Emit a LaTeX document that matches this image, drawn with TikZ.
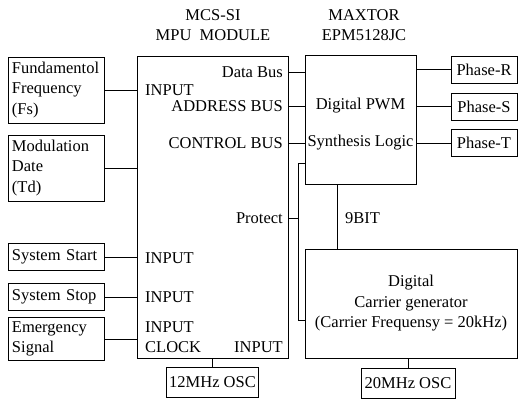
\documentclass[tikz,border=0pt]{standalone}
\usepackage{fontspec}
\setmainfont{Liberation Serif}
\begin{document}
\begin{tikzpicture}[x=1pt,y=-1pt,
  every node/.style={font=\fontsize{16.5}{20.5}\selectfont},
  box/.style={draw, line width=0.8pt, inner sep=0pt},
  lbox/.style={box, align=left, inner xsep=4pt, text width=#1},
  lbl/.style={inner sep=0pt},
  wire/.style={line width=0.7pt}]
\useasboundingbox (0,0) rectangle (518,401);

% titles
\node[lbl] (t1) at (213,15) {MCS-SI};
\node[lbl] (t2) at (213,35) {MPU\ \ MODULE};
\node[lbl] (t3) at (364,15) {MAXTOR};
\node[lbl] (t4) at (364,35) {EPM5128JC};

% main boxes
\node[box, minimum width=151pt, minimum height=302pt] (mpu) at (212.5,207) {};
\node[box, minimum width=111pt, minimum height=129pt] (pwm) at (360.5,119.5) {};
\node[box, minimum width=212pt, minimum height=109pt, align=center] (car) at (411,303.5)
  {Digital\\Carrier generator\\(Carrier Frequensy = 20kHz)};

% left boxes
\node[lbox=88pt, minimum height=66pt] (fund) at (56,90) {Fundamentol\\Frequency\\(Fs)};
\node[lbox=88pt, minimum height=66pt] (mod) at (56,168) {Modulation\\Date\\(Td)};
\node[lbox=88pt, minimum height=27pt] (start) at (56,257) {System Start};
\node[lbox=88pt, minimum height=27pt] (stop) at (56,297) {System Stop};
\node[lbox=88pt, minimum height=43pt] (emg) at (56,339) {Emergency\\Signal};

% phase boxes
\node[box, minimum width=66pt, minimum height=27pt] (pr) at (484,69.5) {Phase-R};
\node[box, minimum width=66pt, minimum height=27pt] (ps) at (484,106.5) {Phase-S};
\node[box, minimum width=66pt, minimum height=27pt] (ptt) at (484,143) {Phase-T};

% oscillators
\node[box, minimum width=92pt, minimum height=30pt] (osc1) at (212.5,382) {12MHz OSC};
\node[box, minimum width=94pt, minimum height=30pt] (osc2) at (408,383) {20MHz OSC};

% MPU inner labels
\node[lbl, anchor=west] (in1) at (145,90) {INPUT};
\node[lbl, anchor=east] (db) at (283,72) {Data Bus};
\node[lbl, anchor=east] (ab) at (283,106) {ADDRESS BUS};
\node[lbl, anchor=east] (cb) at (283,143) {CONTROL BUS};
\node[lbl, anchor=east] (prot) at (283,218) {Protect};
\node[lbl, anchor=west] (in2) at (145,258) {INPUT};
\node[lbl, anchor=west] (in3) at (145,297) {INPUT};
\node[lbl, anchor=west] (in4) at (145,327) {INPUT};
\node[lbl, anchor=west] (clk) at (145,347) {CLOCK};
\node[lbl, anchor=east] (in5) at (283,347) {INPUT};

% PWM inner labels
\node[lbl] (pw1) at (360.5,106) {Digital PWM};
\node[lbl] (pw2) at (360.5,143) {Synthesis Logic};

% 9BIT label
\node[lbl, anchor=west] (nb) at (345,218) {9BIT};

% left connectors
\draw[wire] (fund.east) -- (fund.east -| mpu.west);
\draw[wire] (mod.east) -- (mod.east -| mpu.west);
\draw[wire] (start.east) -- (start.east -| mpu.west);
\draw[wire] (stop.east) -- (stop.east -| mpu.west);
\draw[wire] (emg.east) -- (emg.east -| mpu.west);

% bus connectors
\draw[wire] (mpu.east |- db) -- (pwm.west |- db);
\draw[wire] (mpu.east |- ab) -- (pwm.west |- ab);
\draw[wire] (mpu.east |- cb) -- (pwm.west |- cb);

% phase connectors
\draw[wire] (pwm.east |- pr) -- (pr.west);
\draw[wire] (pwm.east |- ps) -- (ps.west);
\draw[wire] (pwm.east |- ptt) -- (ptt.west);

% protect
\coordinate (pj) at (298,218);
\coordinate (ptop) at (298,163);
\coordinate (pbot) at (298,320);
\draw[wire] (mpu.east |- pj) -- (pj);
\draw[wire] (pwm.west |- ptop) -- (ptop) -- (pbot) -- (car.west |- pbot);

% 9bit
\coordinate (nx) at (337,0);
\draw[wire] (pwm.south -| nx) -- (car.north -| nx);

% oscillators
\draw[wire] (osc1.north) -- (osc1.north |- mpu.south);
\draw[wire] (osc2.north) -- (osc2.north |- car.south);
\end{tikzpicture}
\end{document}
